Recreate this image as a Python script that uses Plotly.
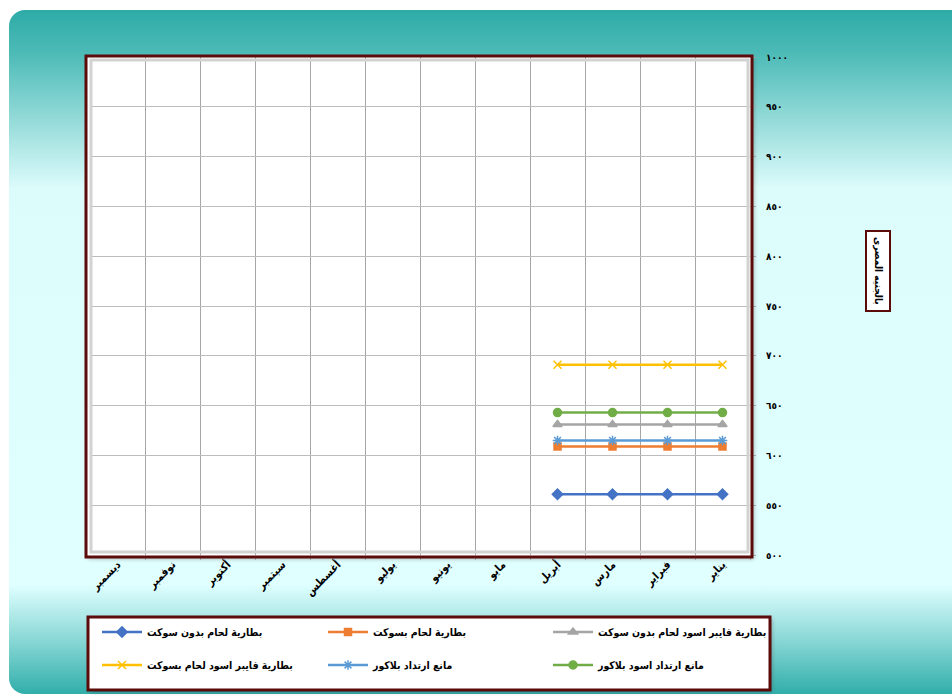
import base64
import plotly.graph_objects as go

# ---------------- data ----------------
months = ["يناير", "فبراير", "مارس", "أبريل", "مايو", "يونيو",
          "يوليو", "أغسطس", "سبتمبر", "أكتوبر", "نوفمبر", "ديسمبر"]

s_blue = [561, 561, 561, 561, None, None, None, None, None, None, None, None]
s_orange = [609, 609, 609, 609, None, None, None, None, None, None, None, None]
s_gray = [631, 631, 631, 631, None, None, None, None, None, None, None, None]
s_yellow = [691, 691, 691, 691, None, None, None, None, None, None, None, None]
s_lblue = [615, 615, 615, 615, None, None, None, None, None, None, None, None]
s_green = [643, 643, 643, 643, None, None, None, None, None, None, None, None]

names = ["بطارية لحام بدون سوكت", "بطارية لحام بسوكت", "بطارية فايبر اسود لحام بدون سوكت",
         "بطارية فايبر اسود لحام بسوكت", "مانع ارتداد بلاكور", "مانع ارتداد اسود بلاكور"]

y_tickvals = [500, 550, 600, 650, 700, 750, 800, 850, 900, 950, 1000]
y_ticktext = ["٥٠٠", "٥٥٠", "٦٠٠", "٦٥٠", "٧٠٠", "٧٥٠", "٨٠٠", "٨٥٠", "٩٠٠", "٩٥٠", "١٠٠٠"]
y_title = "بالجنيه المصرى"

# ---------------- layout geometry ----------------
W, H = 952, 697
L, R, T, B = 90, 202, 57, 142
PW, PH = W - L - R, H - T - B


def px_x(p):
    return (p - L) / PW


def px_y(p):
    return (H - B - p) / PH


FONT = "DejaVu Sans Condensed, DejaVu Sans"
DARKRED = "#5c0b0b"

# legend slot for each series (pixel anchor of the entry)
legend_pos = [(97, 632), (323, 632), (548, 632), (97, 665), (323, 665), (548, 665)]

series = [
    (s_blue, names[0], "#4472c4", "diamond", 8),
    (s_orange, names[1], "#ed7d31", "square", 7),
    (s_gray, names[2], "#a5a5a5", "triangle-up", 8),
    (s_yellow, names[3], "#ffc000", "x-thin-open", 8),
    (s_lblue, names[4], "#5b9bd5", "asterisk-open", 8),
    (s_green, names[5], "#70ad47", "circle", 8),
]

fig = go.Figure()
legends = {}
for i, (vals, nm, col, sym, sz) in enumerate(series):
    key = "legend" if i == 0 else f"legend{i + 1}"
    fig.add_trace(go.Scatter(
        x=months, y=vals, name=nm, mode="lines+markers",
        line=dict(color=col, width=2.5),
        marker=dict(symbol=sym, size=sz, color=col, line=dict(color=col, width=1.5)),
        legend=key,
    ))
    lx, ly = legend_pos[i]
    legends[key] = dict(
        orientation="h", x=px_x(lx), y=px_y(ly), xanchor="left", yanchor="middle",
        bgcolor="rgba(0,0,0,0)", borderwidth=0,
        font=dict(size=10.5, family=FONT, color="black", weight="bold"), itemwidth=40,
    )

# background svg: rounded rect with vertical gradient, white plot area and legend box
OX, OY = 9, 10  # svg origin in page pixels
svg = f"""<svg xmlns='http://www.w3.org/2000/svg' width='951' height='690' viewBox='0 0 951 690' preserveAspectRatio='none'>
<defs><linearGradient id='g' x1='0' y1='0' x2='0' y2='1'>
<stop offset='0' stop-color='#2eaba7'/>
<stop offset='0.06' stop-color='#4bbab6'/>
<stop offset='0.26' stop-color='#dcfbfb'/>
<stop offset='0.84' stop-color='#e0ffff'/>
<stop offset='0.92' stop-color='#8ad8d6'/>
<stop offset='1' stop-color='#31aeaa'/>
</linearGradient>
<filter id='s' x='-5%' y='-5%' width='110%' height='110%'><feGaussianBlur stdDeviation='2'/></filter>
</defs>
<rect x='0' y='0' width='980' height='684' rx='16' ry='16' fill='url(#g)'/>
<rect x='{86 - OX + 2}' y='{56 - OY + 2}' width='{752 - 86}' height='{557 - 56}' fill='#3a3a3a' opacity='0.35' filter='url(#s)'/>
<rect x='{88 - OX + 2}' y='{617 - OY + 2}' width='{770 - 88}' height='{690 - 617}' fill='#3a3a3a' opacity='0.35' filter='url(#s)'/>
<rect x='{86 - OX}' y='{56 - OY}' width='{752 - 86}' height='{557 - 56}' fill='white'/>
<rect x='{88 - OX}' y='{617 - OY}' width='{770 - 88}' height='{690 - 617}' fill='white'/>
</svg>"""
src = "data:image/svg+xml;base64," + base64.b64encode(svg.encode()).decode()

fig.add_layout_image(dict(
    source=src, xref="paper", yref="paper",
    x=px_x(OX), y=px_y(OY), sizex=951 / PW, sizey=690 / PH,
    xanchor="left", yanchor="top", sizing="stretch", layer="below",
))

shapes = [
    # plot frame
    dict(type="rect", xref="paper", yref="paper",
         x0=px_x(86), x1=px_x(752), y0=px_y(557), y1=px_y(56),
         line=dict(color=DARKRED, width=3), layer="above"),
    # inner bevel
    dict(type="rect", xref="paper", yref="paper",
         x0=px_x(91), x1=px_x(748), y0=px_y(552), y1=px_y(60),
         line=dict(color="#d2d2d2", width=3), layer="above"),
    # legend box border
    dict(type="rect", xref="paper", yref="paper",
         x0=px_x(88), x1=px_x(770), y0=px_y(690), y1=px_y(617),
         line=dict(color=DARKRED, width=3), layer="above"),
]

fig.update_layout(
    width=W, height=H,
    margin=dict(l=L, r=R, t=T, b=B),
    paper_bgcolor="white",
    plot_bgcolor="white",
    font=dict(family=FONT, color="black"),
    shapes=shapes,
    showlegend=True,
    annotations=[dict(
        text=y_title, xref="paper", yref="paper", x=px_x(878), y=px_y(271),
        xanchor="center", yanchor="middle", textangle=90, showarrow=False,
        font=dict(size=10, family=FONT, color="black", weight="bold"),
        bgcolor="white", bordercolor=DARKRED, borderwidth=2, borderpad=5,
    )],
    **legends,
)

fig.update_xaxes(
    type="category", categoryorder="array", categoryarray=months,
    range=[len(months) - 0.5, -0.5],
    tickson="boundaries", ticks="outside", ticklen=4, tickcolor="#a6a6a6",
    showgrid=True, gridcolor="#a6a6a6", gridwidth=1,
    tickangle=-45, tickfont=dict(size=11, family=FONT, color="black", weight="bold"),
    showline=False, zeroline=False,
)
fig.update_yaxes(
    range=[500, 1000], side="right",
    tickvals=y_tickvals, ticktext=y_ticktext,
    ticks="outside", ticklen=5, tickcolor="#a6a6a6",
    ticklabelstandoff=8,
    showgrid=True, gridcolor="#bdbdbd", gridwidth=1,
    tickfont=dict(size=10, family=FONT, color="black", weight="bold"),
    showline=False, zeroline=False,
)

fig.write_html("out.html", config={"displayModeBar": False},
               post_script="document.body.style.margin='0px';")
